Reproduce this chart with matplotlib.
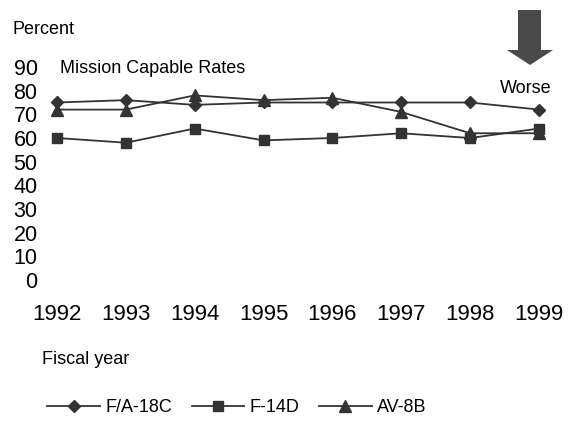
import matplotlib
matplotlib.use("Agg")
import matplotlib.pyplot as plt
from matplotlib.patches import Polygon

years = [1992, 1993, 1994, 1995, 1996, 1997, 1998, 1999]
fa18c = [75, 76, 74, 75, 75, 75, 75, 72]
f14d = [60, 58, 64, 59, 60, 62, 60, 64]
av8b = [72, 72, 78, 76, 77, 71, 62, 62]
yticks = [0, 10, 20, 30, 40, 50, 60, 70, 80, 90]

plt.rcParams['font.family'] = ['Liberation Sans', 'DejaVu Sans']
W, H = 578, 422
fig = plt.figure(figsize=(W / 100, H / 100), dpi=100)
ax = fig.add_axes([57 / W, 1 - 280 / H, (539 - 57) / W, (280 - 67) / H])
col = '#333333'
ax.plot(years, fa18c, color=col, lw=1.3, marker='D', ms=6, clip_on=False, label='F/A-18C')
ax.plot(years, f14d, color=col, lw=1.3, marker='s', ms=7, clip_on=False, label='F-14D')
ax.plot(years, av8b, color=col, lw=1.3, marker='^', ms=8, clip_on=False, label='AV-8B')
ax.set_xlim(1992, 1999)
ax.set_ylim(0, 90)
ax.set_yticks(yticks)
ax.set_yticklabels([str(v) for v in yticks], fontsize=15.5)
ax.set_xticks(years)
ax.set_xticklabels([str(y) for y in years], fontsize=16)
ax.tick_params(axis='y', length=0, pad=14)
ax.tick_params(axis='x', length=0, pad=17)
for s in ax.spines.values():
    s.set_visible(False)
ax.patch.set_visible(False)

fig.text(13 / W, 1 - 34 / H, 'Percent', fontsize=13, va='baseline', ha='left')
fig.text(60 / W, 1 - 73 / H, 'Mission Capable Rates', fontsize=13, va='baseline', ha='left')
fig.text(526 / W, 1 - 93 / H, 'Worse', fontsize=13, va='baseline', ha='center')
fig.text(42 / W, 1 - 364 / H, 'Fiscal year', fontsize=13, va='baseline', ha='left')

pts = [(518, 10), (541, 10), (541, 50), (553, 50), (530, 65), (507, 50), (518, 50)]
arrow = Polygon([(x / W, 1 - y / H) for x, y in pts], closed=True,
                transform=fig.transFigure, facecolor='#4a4a4a', edgecolor='none')
fig.patches.append(arrow)

fig.legend(loc='center', bbox_to_anchor=(237 / W, 1 - 408 / H), ncol=3, frameon=False,
           fontsize=13, handlelength=2.9, columnspacing=1.1, handletextpad=0.3,
           markerscale=1.0)

fig.savefig('out.png', dpi=100)
